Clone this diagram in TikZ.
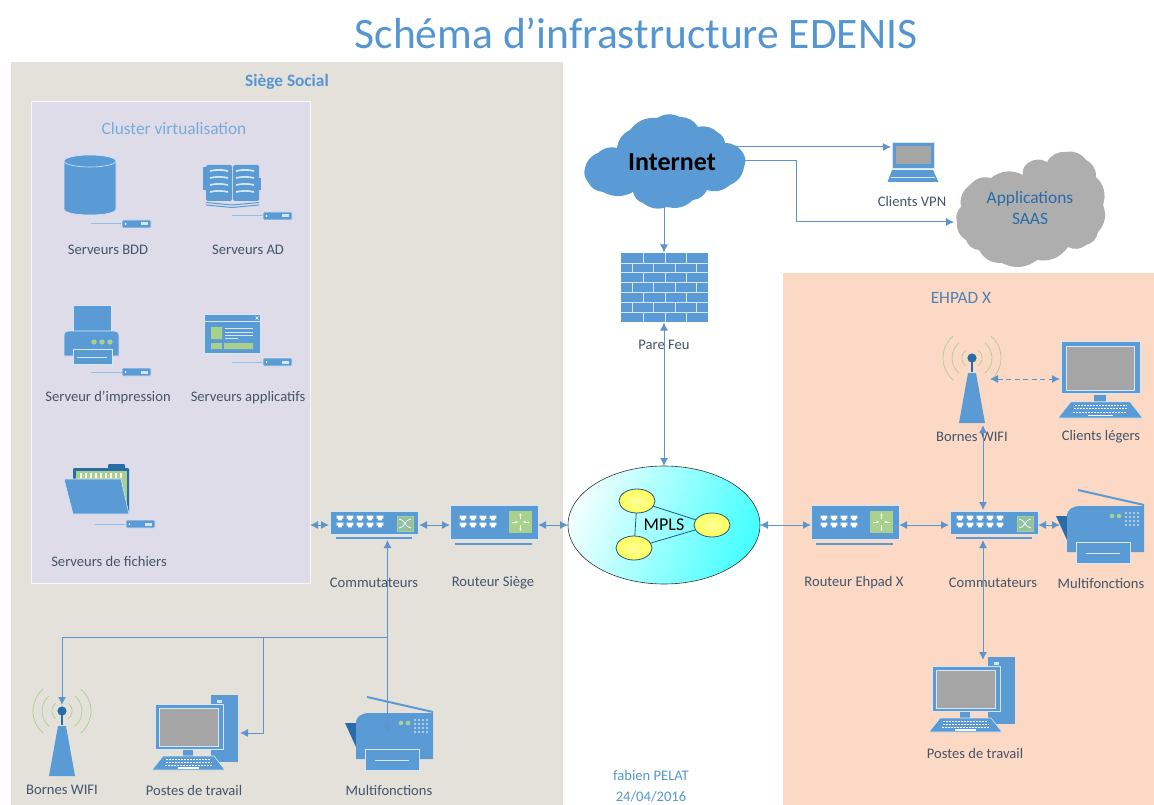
\documentclass[tikz,border=0pt]{standalone}
\usepackage{fontspec}
\setmainfont{Carlito}
\usetikzlibrary{arrows.meta,shapes.geometric}
\definecolor{icoblue}{HTML}{5B9BD5}
\definecolor{icoline}{HTML}{D6E6F5}
\definecolor{icodark}{HTML}{2A6CA8}
\definecolor{icogreen}{HTML}{A9D18E}
\definecolor{icogrey}{HTML}{A5A5A5}
\definecolor{labelcol}{HTML}{44546A}
\definecolor{wirecol}{HTML}{5E94CC}
\definecolor{titlecol}{HTML}{5596D2}
\definecolor{grzone}{HTML}{E4E1DB}
\definecolor{clzone}{HTML}{DEDCE9}
\definecolor{sazone}{HTML}{FCD9C4}
\tikzset{
 ico/.style={fill=icoblue,draw=icoline,line width=.6pt},
 lbl/.style={font=\fontsize{14.6}{16}\selectfont,text=labelcol,inner sep=0pt},
 zonetitle/.style={font=\fontsize{17.3}{19}\selectfont,text=titlecol,inner sep=0pt},
 anch/.style={inner sep=0pt,outer sep=0pt,draw=none,fill=none},
 wire/.style={draw=wirecol,line width=1pt},
 both/.style={wire,{Latex[length=8pt,width=8pt]}-{Latex[length=8pt,width=8pt]}},
 tohead/.style={wire,-{Latex[length=8pt,width=8pt]}},
 mnode/.style={draw=icodark!80!black,line width=.8pt,shape=ellipse,minimum width=36pt,minimum height=24pt,inner sep=0pt,outer sep=0pt,inner color=white!60!yellow,outer color=yellow!65},
 srvtag/.pic={
  \draw[draw=icoblue!65,line width=1pt] (0,0) -- (31,0);
  \draw[ico,rounded corners=1pt] (31,-4) rectangle (60,4);
  \fill[white] (34.5,0) circle (1);
  \fill[icoline] (50,-1.5) rectangle (57,1.5);
 },
 port/.pic={
  \fill[white] (-3.4,-2.3) -- (3.4,-2.3) -- (3.4,0.5) -- (1.8,0.5) -- (1.8,2.3) -- (-1.8,2.3) -- (-1.8,0.5) -- (-3.4,0.5) -- cycle;
 },
 switchicon/.pic={
  \draw[ico] (0,0) rectangle (88,23);
  \fill[icoblue] (6,26) rectangle (82,28);
  \foreach \cx in {10,20,30,40,50}{
   \pic at (\cx,7) {port};
   \pic at (\cx,14) {port};
  }
  \draw[icogreen,fill=icogreen!70!icoblue,line width=.8pt] (67,5) rectangle (83,20);
  \draw[white,line width=.7pt] (69,8) .. controls (75,8) and (75,17) .. (81,17);
  \draw[white,line width=.7pt] (69,17) .. controls (75,17) and (75,8) .. (81,8);
 },
 routericon/.pic={
  \draw[ico] (0,0) rectangle (88,34);
  \fill[icoblue] (5,38) rectangle (82,40);
  \foreach \cx in {13,23,33,43}{
   \pic at (\cx,13) {port};
   \pic at (\cx,20) {port};
  }
  \fill[icogreen] (59,6) rectangle (82,28);
  \draw[white,line width=.7pt,-{Latex[length=2.5pt,width=2.5pt]}] (62,17) -- (68,17);
  \draw[white,line width=.7pt,-{Latex[length=2.5pt,width=2.5pt]}] (79,17) -- (73,17);
  \draw[white,line width=.7pt,-{Latex[length=2.5pt,width=2.5pt]}] (70.5,14) -- (70.5,8);
  \draw[white,line width=.7pt,-{Latex[length=2.5pt,width=2.5pt]}] (70.5,20) -- (70.5,26);
 },
 screenicon/.pic={
  \draw[ico] (3,9) rectangle (71,54);
  \fill[icogrey] (7,13) rectangle (66,51);
  \draw[icoline,line width=.5pt] (7,13) rectangle (66,51);
  \fill[icoblue] (31,55) rectangle (41,61);
  \draw[ico] (0,75) -- (73,75) -- (62,61) -- (11,61) -- cycle;
  \foreach \ky in {64,67,70}{
   \draw[white,line width=1pt,dash pattern=on 2pt off 1pt] (25-\ky/6,\ky) -- (48+\ky/6,\ky);
  }
  \fill[white] (26,72) rectangle (47,73.5);
 },
 towericon/.pic={
  \fill[icoblue] (59,0) rectangle (86,67);
  \fill[icoline] (65,5) rectangle (70,7.5);
  \fill[icoline] (65,9.5) rectangle (70,12);
 },
 mfpicon/.pic={
  \fill[icodark] (-22,26) -- (-11,26) -- (-11,50) -- cycle;
  \draw[icoblue,line width=2pt] (0,0) -- (66,15);
  \fill[icoblue] (-11,26) .. controls (-11,19) and (-5,16) .. (3,16) -- (66,16) -- (66,62) -- (-11,62) -- cycle;
  \draw[ico] (-2,52) rectangle (52,73);
  \draw[icoline,line width=.7pt] (8,63) -- (42,63);
  \fill[icogreen] (34,26) circle (2.3) (41,26) circle (2.3);
  \foreach \gx in {48,52,56,60}\foreach \gy in {23,27,31,35}{\fill[white] (\gx,\gy) circle (.8);}
 },
 wifiicon/.pic={
  \foreach \rr in {10,20,29}{
   \draw[icogreen,line width=.7pt] (-50:\rr) arc (-50:50:\rr);
   \draw[icogreen,line width=.7pt] (130:\rr) arc (130:230:\rr);
  }
  \draw[icodark,line width=1.6pt] (0,0) -- (0,14);
  \fill[icodark] (0,0) circle (4.6);
  \fill[icoblue] (-4,15) -- (4,15) -- (13,65) -- (-13,65) -- cycle;
 }
}
\begin{document}
\begin{tikzpicture}[x=1pt,y=-1pt]
\useasboundingbox (0,0) rectangle (1154,805);
\fill[white] (0,0) rectangle (1154,805);
% zones
\fill[grzone] (11,62) rectangle (563,805);
\draw[fill=clzone,draw=white!80!clzone,line width=1pt] (31,102) rectangle (310,583);
\fill[sazone] (783,273) rectangle (1154,805);
% title
\node[font=\fontsize{43.5}{46}\selectfont,text=titlecol,inner sep=0pt] (title) at (636,33) {Schéma d’infrastructure EDENIS};
\node[zonetitle,font=\fontsize{17.3}{19}\selectfont\bfseries] (siege) at (287,82) {Siège Social};
\node[zonetitle,text=titlecol!80!white] (cluster) at (174,129) {Cluster virtualisation};
\node[zonetitle,text=titlecol!70!labelcol] (ehpad) at (961,298) {EHPAD X};
% database
\fill[ico] (64,161) -- (64,209) .. controls (64,217) and (116,217) .. (116,209) -- (116,161) -- cycle;
\draw[ico] (90,161) ellipse [x radius=26,y radius=6];
\pic at (91,224) {srvtag};
% book
\fill[icoblue] (203,167) rectangle (206,190);
\fill[icoblue] (258,178) rectangle (261,190);
\fill[icoblue,rounded corners=1.5pt] (206,165) rectangle (232,201);
\fill[icoblue,rounded corners=1.5pt] (233,165) rectangle (259,201);
\foreach \by in {171,178,185,192}{
 \draw[icoline,line width=1.7pt] (210,\by) .. controls (216,\by-1.5) and (222,\by-1.5) .. (228,\by);
 \draw[icoline,line width=1.7pt] (236,\by) .. controls (242,\by-1.5) and (248,\by-1.5) .. (254,\by);
}
\draw[icoblue,line width=1pt] (206,202.5) -- (232,205) -- (259,202.5);
\draw[icoblue,line width=1pt] (206,205) -- (232,207.5) -- (259,205);
\pic at (232,216) {srvtag};
% printer
\fill[ico] (73,305) rectangle (111,332);
\fill[ico] (64,336) .. controls (64,332) and (66,331) .. (69,331) -- (114,331) .. controls (117,331) and (119,332) .. (119,336) -- (119,356) -- (64,356) -- cycle;
\draw[ico] (73,349) rectangle (112,364);
\draw[icoline,line width=.7pt] (77,357) -- (107,357);
\fill[icogreen] (94,342) circle (2.6) (102,342) circle (2.6) (110,342) circle (2.6);
\pic at (91,372) {srvtag};
% app window
\draw[ico] (204,314) rectangle (260,353);
\draw[icoline,line width=.5pt] (204,321) -- (260,321);
\draw[white,line width=.6pt] (255.5,316.5) -- (258.5,319.5) (255.5,319.5) -- (258.5,316.5);
\fill[icogreen] (211,327) rectangle (222,339) (211,343) rectangle (222,349) (224,343) rectangle (253,349);
\draw[icoline,line width=.6pt] (225,328) -- (253,328) (225,332) -- (253,332) (225,335) -- (253,335) (225,338) -- (238,338);
\pic at (232,362) {srvtag};
% folder
\fill[icodark,rounded corners=1pt] (108,464) rectangle (125,472);
\fill[icodark,rounded corners=1pt] (73,468) rectangle (129,513);
\fill[icogreen] (76,471) rectangle (127,510);
\foreach \tx in {80,85,...,120}{\fill[white] (\tx,473) rectangle (\tx+1.5,478);}
\draw[ico] (64,479) -- (121,479) -- (129,514) -- (73,514) -- cycle;
\pic at (95,524) {srvtag};
% labels of the cluster
\node[lbl] (lbdd) at (108,250) {Serveurs BDD};
\node[lbl] (lad) at (248,250) {Serveurs AD};
\node[lbl] (limp) at (108,398) {Serveur d’impression};
\node[lbl] (lapp) at (248,398) {Serveurs applicatifs};
\node[lbl] (lfic) at (109,561) {Serveurs de fichiers};
% network row
\pic at (330,511) {switchicon};
\pic at (450,505) {routericon};
\pic at (811,505) {routericon};
\pic at (950,511) {switchicon};
\node[lbl] (lcom1) at (374,583) {Commutateurs};
\node[lbl] (lrou1) at (493,583) {Routeur Siège};
\node[lbl] (lrou2) at (854,583) {Routeur Ehpad X};
\node[lbl] (lcom2) at (993,583) {Commutateurs};
\node[lbl] (lmfp2) at (1101,583) {Multifonctions};
% MPLS
\node[draw=black!80,line width=.6pt,shape=ellipse,minimum width=192pt,minimum height=118pt,inner sep=0pt,outer sep=0pt,left color=cyan!6,right color=cyan!72,shading angle=70] (mpls) at (664,525) {};
\node[mnode] (m1) at (637,501) {};
\node[mnode] (m2) at (712,525) {};
\node[mnode] (m3) at (634,548) {};
\draw[icodark!80!black,line width=.8pt] (m1) -- (m2) (m2) -- (m3) (m3) -- (m1);
\node[font=\fontsize{18}{20}\selectfont,text=black,inner sep=0pt] (mplstxt) at (664,525) {MPLS};
% firewall
\fill[icoblue] (621,253) rectangle (708,322);
\foreach \ry in {1,...,6}{\draw[icoline,line width=.7pt] (621,253+9.86*\ry) -- (708,253+9.86*\ry);}
\foreach \ry in {0,2,4,6}{\foreach \vx in {643,665,686.5}{\draw[icoline,line width=.7pt] (\vx,253+9.86*\ry) -- (\vx,253+9.86*\ry+9.86);}}
\foreach \ry in {1,3,5}{\foreach \vx in {632,653.5,675,696}{\draw[icoline,line width=.7pt] (\vx,253+9.86*\ry) -- (\vx,253+9.86*\ry+9.86);}}
\node[lbl] (lfw) at (664,345) {Pare Feu};
% laptop
\draw[ico] (892,142) rectangle (934,168);
\fill[icogrey] (896,146) rectangle (931,164);
\fill[icoblue] (892,170) -- (933,170) -- (938.5,182) -- (887.5,182) -- cycle;
\draw[icoline,line width=.7pt] (891,177) -- (935,177);
\node[lbl] (lvpn) at (912,201) {Clients VPN};
% SAAS cloud
\fill[icogrey!90!white] (957,222) foreach \px/\py in {961/207,970/185,991/178,1023/175,1028/163,1047/162,1066/152,1086/160,1096/177,1103/205,1098/232,1086/245,1068/247,1037/260,1002/263,979/250,966/240,957/222} { to[bend left=32] (\px,\py) } -- cycle;
\node[font=\fontsize{17.4}{21}\selectfont,text=icodark,align=center,inner sep=0pt] (lsaas) at (1030,208) {Applications\\SAAS};
% Ehpad icons
\pic at (972,358) {wifiicon};
\node[lbl] (lwifi2) at (972,437) {Bornes WIFI};
\pic[scale=1.16] at (1058,331) {screenicon};
\node[lbl] (lleg) at (1101,437) {Clients légers};
\pic at (1078,490) {mfpicon};
\pic at (929,657) {towericon};
\pic at (929,657) {screenicon};
\node[lbl] (lpos2) at (975,753) {Postes de travail};
% Siege lower icons
\pic at (62,711) {wifiicon};
\node[lbl] (lwifi1) at (62,790) {Bornes WIFI};
\pic at (152,695) {towericon};
\pic at (152,695) {screenicon};
\node[lbl] (lpos1) at (194,790) {Postes de travail};
\pic at (367,697) {mfpicon};
\node[lbl] (lmfp1) at (389,790) {Multifonctions};
% footer
\node[font=\fontsize{14.6}{20.5}\selectfont,text=titlecol,align=center,inner sep=0pt] (foot) at (651,786) {fabien PELAT\\24/04/2016};
% anchors for the connectors
\node[anch,minimum width=90pt,minimum height=30pt] (sw1) at (374,525) {};
\node[anch,minimum width=88pt,minimum height=30pt] (rt1) at (494,525) {};
\node[anch,minimum width=88pt,minimum height=30pt] (rt2) at (855,525) {};
\node[anch,minimum width=89pt,minimum height=30pt] (sw2) at (993.5,525) {};
\node[anch,minimum width=20pt,minimum height=10pt] (zone) at (320,525) {};
\node[anch,minimum width=40pt,minimum height=70pt] (fw) at (664,287.5) {};
\node[anch,minimum width=160pt,minimum height=92pt] (net) at (664,161) {};
\node[anch,minimum width=40pt,minimum height=30pt] (vpn) at (911,147) {};
\node[anch,minimum width=20pt,minimum height=50pt] (saas) at (964,222) {};
\node[anch,minimum width=20pt,minimum height=80pt] (wifi2) at (983,385) {};
\node[anch,minimum width=10pt,minimum height=30pt] (wifi2e) at (985,379) {};
\node[anch,minimum width=10pt,minimum height=30pt] (leg) at (1065,379) {};
\node[anch,minimum width=30pt,minimum height=30pt] (mfp2) at (1075,525) {};
\node[anch,minimum width=30pt,minimum height=50pt] (pos2) at (983,685) {};
\node[anch,minimum width=20pt,minimum height=20pt] (wifi1) at (62,715) {};
\node[anch,minimum width=20pt,minimum height=20pt] (pos1) at (230,733) {};
\node[anch,minimum width=20pt,minimum height=20pt] (mfp1) at (387.5,743) {};
\coordinate (trunk) at (387.5,637);
\coordinate (branch) at (263,637);
\coordinate (bendsaas) at (796,222);
% connectors
\draw[tohead] (net.east |- vpn.west) ++(-20,0) -- (vpn.west);
\draw[tohead] (net.east) ++(-5,0) -| (bendsaas) -- (saas.west);
\draw[tohead] (net.south) -- (fw.north);
\draw[both] (fw.south) -- (mpls.north);
\draw[both] (zone.west) -- (sw1.west);
\draw[both] (sw1.east) -- (rt1.west);
\draw[both] (rt1.east) -- (mpls.west);
\draw[both] (mpls.east) -- (rt2.west);
\draw[both] (rt2.east) -- (sw2.west);
\draw[both] (sw2.east) -- (mfp2.west);
\draw[both] (wifi2.south) -- (sw2.north -| wifi2.south);
\draw[both] (sw2.south -| wifi2.south) -- (pos2.north);
\draw[both,dash pattern=on 5pt off 3.5pt] (wifi2e.east) -- (leg.west);
\draw[tohead] (trunk) -- (trunk |- sw1.south);
\draw[tohead] (trunk) -- (mfp1.north);
\draw[tohead] (trunk) -| (wifi1.north);
\draw[tohead] (branch) |- (pos1.east);
% Internet cloud over the start of its connectors
\fill[icoblue] (585,168) foreach \px/\py in {598/153,617/148,630/130,657/118,680/117,698/127,717/132,725/143,743/153,744/167,730/185,707/190,693/200,667/207,643/203,633/192,603/192,588/182,585/168} { to[bend left=28] (\px,\py) } -- cycle;
\node[font=\fontsize{26}{28}\selectfont\bfseries,text=black,inner sep=0pt] (inet) at (672,162) {Internet};
\end{tikzpicture}
\end{document}
